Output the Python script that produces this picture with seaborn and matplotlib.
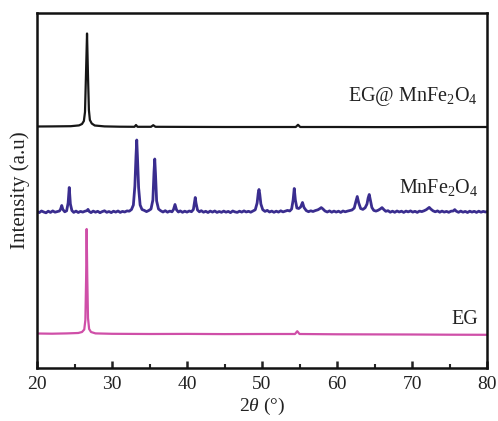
import numpy as np
import pandas as pd
import matplotlib
matplotlib.use("Agg")
import matplotlib.pyplot as plt
import seaborn as sns
from matplotlib.ticker import MultipleLocator

# ---- data (2theta in degrees, intensity in a.u., with vertical offsets) ----
eg_x = [20, 22.0, 24.0, 25.5, 26.0, 26.3, 26.45, 26.55, 26.62, 26.7, 26.8, 26.95, 27.2, 27.8,
        30.0, 35.0, 40.0, 45.0, 50.0, 54.4, 54.7, 55.0, 60.0, 65.0, 70.0, 75.0, 80]
eg_y = [34.5, 34.3, 34.6, 35.0, 36.0, 38.5, 48.0, 90.0, 139.0, 92.0, 50.0, 39.0, 36.0, 34.6,
        34.2, 34.0, 34.1, 33.9, 34.0, 34.0, 36.8, 34.0, 33.7, 33.6, 33.5, 33.3, 33.2]

egm_x = [20, 22.0, 24.5, 25.6, 26.0, 26.25, 26.4, 26.52, 26.67, 26.8, 26.92, 27.05, 27.3,
         27.7, 29.0, 31.0, 33.0, 33.2, 33.4, 35.2, 35.5, 35.8, 40.0, 45.0, 50.0,
         54.5, 54.8, 55.1, 60.0, 65.0, 70.0, 75.0, 80]
egm_y = [241.5, 241.6, 241.8, 242.6, 244.0, 247.0, 256.0, 290.0, 334.5, 292.0, 258.0, 248.0, 244.5,
         242.5, 241.6, 241.3, 241.2, 243.0, 241.2, 241.2, 242.8, 241.2, 241.1, 241.0, 241.0,
         241.0, 243.2, 241.0, 241.0, 240.9, 240.9, 241.0, 241.0]

mn_x = [20.0, 20.3, 20.6, 20.9, 21.2, 21.5, 21.8, 22.1, 22.4, 22.7, 23.0, 23.15, 23.3, 23.45,
        23.7, 23.95, 24.15, 24.3, 24.45, 24.65, 24.9, 25.2, 25.5, 25.8, 26.1, 26.4, 26.65,
        26.8, 26.95, 27.2, 27.5, 27.8, 28.1, 28.4, 28.7, 29.0, 29.3, 29.6, 29.9, 30.2, 30.5,
        30.8, 31.1, 31.4, 31.7, 32.0, 32.3, 32.6, 32.85, 33.05, 33.2, 33.3, 33.4, 33.55,
        33.75, 34.0, 34.3, 34.6, 34.9, 35.2, 35.45, 35.6, 35.7, 35.8, 35.95, 36.2, 36.5,
        36.8, 37.1, 37.4, 37.7, 38.0, 38.2, 38.4, 38.6, 38.85, 39.1, 39.4, 39.7, 40.0,
        40.3, 40.6, 40.85, 41.0, 41.1, 41.2, 41.4, 41.65, 41.9, 42.2, 42.5, 42.8, 43.1,
        43.4, 43.7, 44.0, 44.3, 44.6, 44.9, 45.2, 45.5, 45.8, 46.1, 46.4, 46.7, 47.0,
        47.3, 47.6, 47.9, 48.2, 48.5, 48.8, 49.1, 49.35, 49.5, 49.6, 49.7, 49.85, 50.1,
        50.4, 50.7, 51.0, 51.3, 51.6, 51.9, 52.2, 52.5, 52.8, 53.1, 53.4, 53.7, 53.95,
        54.15, 54.3, 54.45, 54.65, 54.9, 55.15, 55.4, 55.6, 55.9, 56.2, 56.5, 56.8, 57.1,
        57.45, 57.7, 57.9, 58.1, 58.4, 58.7, 59.0, 59.3, 59.6, 59.9, 60.2, 60.5, 60.8,
        61.1, 61.4, 61.7, 62.0, 62.3, 62.5, 62.7, 62.9, 63.15, 63.45, 63.75, 64.0, 64.15,
        64.3, 64.45, 64.65, 64.9, 65.2, 65.5, 65.8, 66.0, 66.25, 66.5, 66.8, 67.1, 67.4,
        67.7, 68.0, 68.3, 68.6, 68.9, 69.2, 69.5, 69.8, 70.1, 70.4, 70.7, 71.0, 71.3,
        71.6, 71.9, 72.1, 72.3, 72.5, 72.8, 73.1, 73.4, 73.7, 74.0, 74.3, 74.6, 74.9,
        75.2, 75.5, 75.7, 75.9, 76.2, 76.5, 76.8, 77.1, 77.4, 77.7, 78.0, 78.3, 78.6,
        78.9, 79.2, 79.5, 79.8, 80.0]
mn_y = [156.5, 155.4, 157.0, 156.0, 155.2, 156.8, 155.6, 157.1, 155.8, 156.4, 157.0, 159.0, 162.5, 158.5,
        156.2, 157.2, 165.0, 180.5, 164.0, 157.5, 155.6, 156.9, 155.5, 156.6, 155.9, 156.8, 157.3,
        158.6, 156.6, 155.4, 156.9, 155.8, 156.7, 155.3, 156.4, 157.2, 155.7, 156.5, 155.4, 156.8, 155.9,
        157.0, 155.6, 156.6, 156.0, 157.1, 156.8, 158.5, 163.0, 182.0, 212.0, 228.0, 210.0, 180.0,
        163.0, 158.5, 157.6, 156.4, 157.5, 159.0, 168.0, 196.0, 209.0, 194.0, 167.0, 159.0, 157.2,
        156.0, 157.3, 155.8, 156.9, 156.2, 158.5, 163.5, 158.2, 156.0, 157.1, 155.7, 156.8, 155.9,
        157.0, 156.3, 158.5, 166.0, 170.5, 165.0, 158.0, 156.2, 157.3, 155.8, 156.7, 155.5, 156.9,
        155.9, 157.0, 155.6, 156.5, 155.7, 156.9, 155.8, 156.6, 155.4, 157.0, 156.1, 155.6, 156.8,
        155.9, 157.1, 156.0, 156.7, 155.8, 157.0, 158.2, 165.0, 175.0, 178.5, 174.0, 164.0, 158.3,
        156.6, 157.6, 156.0, 156.9, 155.7, 156.8, 155.9, 157.2, 156.1, 156.9, 157.6, 157.0, 159.0,
        168.0, 179.5, 168.0, 160.0, 159.5, 161.0, 165.5, 160.5, 157.4, 156.3, 157.2, 156.5, 157.4,
        158.2, 159.3, 160.4, 159.2, 157.0, 156.0, 157.1, 155.8, 156.9, 155.9, 156.8, 155.6, 157.0,
        156.2, 156.9, 157.4, 158.0, 160.0, 166.0, 171.5, 165.0, 159.5, 158.6, 160.2, 164.0, 170.0,
        173.5, 168.0, 160.5, 157.6, 156.9, 157.8, 159.2, 160.4, 158.4, 156.7, 157.3, 155.8, 156.8,
        155.7, 157.0, 156.0, 156.8, 155.6, 156.9, 156.1, 157.1, 155.9, 156.7, 155.6, 156.9, 156.4,
        157.2, 158.3, 159.4, 160.6, 159.0, 157.2, 156.2, 157.1, 155.8, 156.9, 155.9, 156.6, 155.7,
        156.8, 157.0, 158.4, 156.8, 155.7, 156.9, 155.8, 156.6, 155.5, 156.8, 155.9, 156.7, 155.6,
        156.8, 155.8, 156.6, 156.0, 156.4]

labels = ["EG@ MnFe$_2$O$_4$", "MnFe$_2$O$_4$", "EG"]
label_y = [272, 180, 49]
colors = ["#161616", "#3a2d8f", "#cf4fa8"]

x_ticks = [20, 30, 40, 50, 60, 70, 80]

# ---- figure ----
sns.set_theme(style="white")
plt.rcParams["font.family"] = ["Liberation Serif", "DejaVu Serif"]
plt.rcParams["mathtext.fontset"] = "custom"
plt.rcParams["mathtext.rm"] = "Liberation Serif"
plt.rcParams["mathtext.it"] = "Liberation Serif:italic"

fig = plt.figure(figsize=(4.98, 4.21), dpi=100)
ax = fig.add_axes([37 / 498, 1 - 368 / 421, 450 / 498, 355 / 421])

series = [(egm_x, egm_y), (mn_x, mn_y), (eg_x, eg_y)]
widths = [1.6, 2.0, 1.6]
for (xs, ys), c, lw in zip(series, colors, widths):
    df = pd.DataFrame({"x": xs, "y": ys})
    sns.lineplot(data=df, x="x", y="y", ax=ax, color=c, linewidth=lw,
                 sort=False, estimator=None)

for lab, yy in zip(labels, label_y):
    ax.text(78.8, yy, lab, ha="right", va="center", fontsize=14.5, color="#222222")

ax.set_xlim(20, 80)
ax.set_ylim(0, 355)
ax.set_xticks(x_ticks)
ax.xaxis.set_minor_locator(MultipleLocator(5))
ax.set_yticks([])
ax.tick_params(axis="x", which="major", direction="in", length=5, width=1.8,
               labelsize=14, colors="#222222", bottom=True, top=False, pad=6)
ax.tick_params(axis="x", which="minor", direction="in", length=3, width=1.5,
               bottom=True, top=False)
for s in ax.spines.values():
    s.set_linewidth(1.8)
    s.set_color("#111111")
    s.set_visible(True)

ax.set_xlabel(r"2$\it{\theta}$ (°)", fontsize=14, color="#222222", labelpad=2)
ax.set_ylabel("Intensity (a.u)", fontsize=15, color="#222222", labelpad=5)

fig.savefig("out.png", dpi=100)
